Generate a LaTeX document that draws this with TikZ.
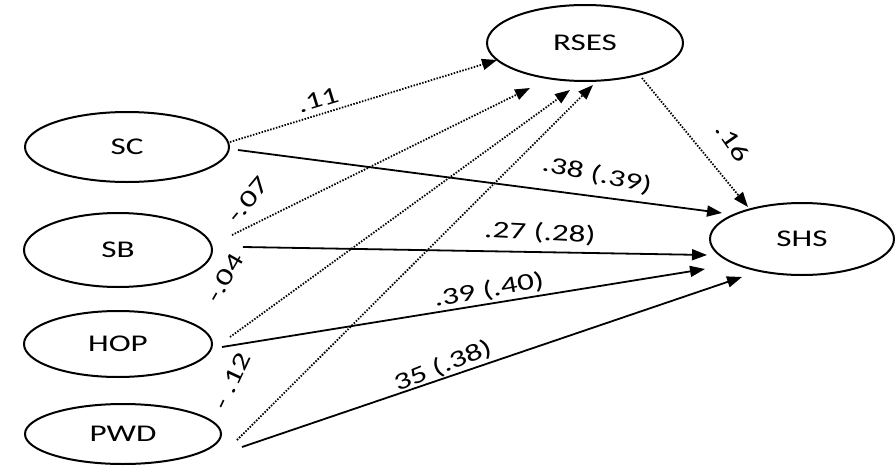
\documentclass[tikz,border=0pt]{standalone}
\usepackage{fontspec}
\setmainfont{Carlito}[FakeStretch=1.38]
\usetikzlibrary{shapes.geometric,arrows.meta}
\begin{document}
\begin{tikzpicture}[x=1pt,y=-1pt,
  latent/.style={draw, ellipse, line width=2pt, inner sep=0pt,
    font=\fontsize{24}{28}\selectfont},
  effect/.style={line width=1.8pt, -{Triangle[length=15pt,width=11pt]}},
  mediated/.style={line width=1.8pt, dash pattern=on 1.5pt off 1.5pt,
    -{Triangle[length=15pt,width=11pt]}},
  coef/.style={font=\fontsize{24}{28}\selectfont, inner sep=0pt}]
\useasboundingbox (0,0) rectangle (895,466);

% latent variables
\node[latent, minimum width=204pt, minimum height=70pt] (SC)   at (127,147) {SC};
\node[latent, minimum width=188pt, minimum height=74pt] (SB)   at (118,250) {SB};
\node[latent, minimum width=188pt, minimum height=66pt] (HOP)  at (118,344) {HOP};
\node[latent, minimum width=196pt, minimum height=60pt] (PWD)  at (123,434) {PWD};
\node[latent, minimum width=196pt, minimum height=76pt] (RSES) at (585,43)  {RSES};
\node[latent, minimum width=184pt, minimum height=72pt] (SHS)  at (802,239) {SHS};

% paths through the mediator
\draw[mediated] ([shift={(103,-5)}]SC.center)  -- ([shift={(-88,17)}]RSES.center);
\draw[mediated] ([shift={(114,-15)}]SB.center) -- ([shift={(-55,45)}]RSES.center);
\draw[mediated] ([shift={(112,-7)}]HOP.center) -- ([shift={(-15,47)}]RSES.center);
\draw[mediated] ([shift={(114,6)}]PWD.center)  -- ([shift={(8,42)}]RSES.center);
\draw[mediated] ([shift={(57,35)}]RSES.center) -- ([shift={(-54,-32)}]SHS.center);

% direct effects
\draw[effect] ([shift={(111,3)}]SC.center)  -- ([shift={(-80,-26)}]SHS.center);
\draw[effect] ([shift={(125,-3)}]SB.center) -- ([shift={(-95,16)}]SHS.center);
\draw[effect] ([shift={(104,3)}]HOP.center) -- ([shift={(-97,30)}]SHS.center);
\draw[effect] ([shift={(119,13)}]PWD.center) -- ([shift={(-60,38)}]SHS.center);

% path coefficients
\node[coef, rotate=17]  (c1) at (318,100) {.11};
\node[coef, rotate=50]  (c2) at (248,200) {-.07};
\node[coef, rotate=60]  (c3) at (225,278) {-.04};
\node[coef, rotate=65]  (c4) at (232,381) {- .12};
\node[coef, rotate=-55] (c5) at (733,142) {.16};
\node[coef, rotate=-12] (c6) at (597,175) {.38 (.39)};
\node[coef, rotate=-3]  (c7) at (540,233) {.27 (.28)};
\node[coef, rotate=10]  (c8) at (489,290) {.39 (.40)};
\node[coef, rotate=22]  (c9) at (443,366) {35 (.38)};
\end{tikzpicture}
\end{document}
